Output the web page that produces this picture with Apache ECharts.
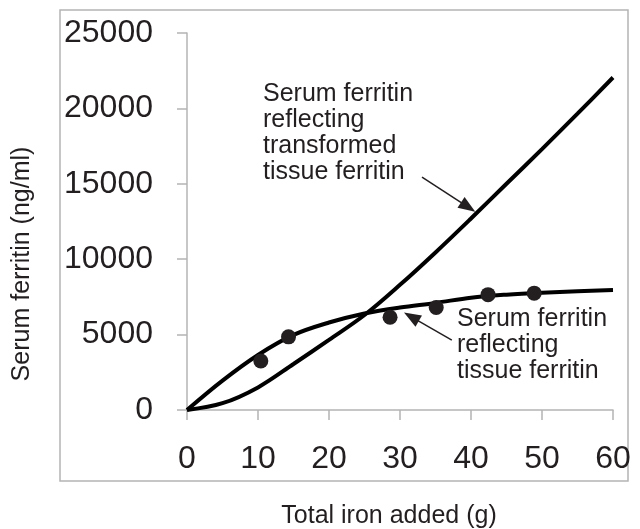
<!DOCTYPE html>
<html>
<head>
<meta charset="utf-8">
<script src="https://cdn.jsdelivr.net/npm/echarts@6/dist/echarts.min.js"></script>
<style>
  html, body { margin: 0; padding: 0; background: #fff; }
  #ferritin { width: 640px; height: 529px; }
</style>
</head>
<body>
<div id="ferritin"></div>
<script>
// x 轴刻度
const ironTicks = [0, 10, 20, 30, 40, 50, 60]
// 两条曲线的取样点 (g, ng/ml)
const curveIron = [0, 5, 10, 15, 20, 25, 30, 35, 40, 45, 50, 55, 60]
const tissueFerritin = [0, 1950, 3650, 4980, 5800, 6400, 6800, 7100, 7450, 7650, 7780, 7870, 7950]
const transformedFerritin = [0, 450, 1500, 3050, 4650, 6300, 8300, 10450, 12700, 15000, 17300, 19650, 22050]
// 实测点
const measuredIron = [10.4, 14.3, 28.6, 35.1, 42.4, 48.9]
const measuredFerritin = [3250, 4850, 6150, 6800, 7650, 7750]
// 箭头 (数据坐标)
const arrowTransformed = [[33.1, 15450], [39.6, 13460]]
const arrowTissue = [[37.3, 4640], [31.6, 6180]]

const fontName = 'Liberation Sans'
const ink = '#231f20'
const axisGray = '#b4b4b4'

const pairs = (xs, ys) => xs.map((x, i) => [x, ys[i]])

const chart = echarts.init(document.getElementById('ferritin'))
chart.setOption({
  animation: false,
  backgroundColor: '#fff',
  grid: { left: 187, right: 27, top: 33, bottom: 119 },
  xAxis: {
    type: 'value',
    min: 0,
    max: 60,
    interval: 10,
    axisLine: { lineStyle: { color: axisGray, width: 1.5 } },
    axisTick: { show: true, length: 10, lineStyle: { color: axisGray, width: 1.5 } },
    axisLabel: {
      margin: 33,
      color: ink,
      fontFamily: fontName,
      fontSize: 32,
      formatter: v => (ironTicks.indexOf(v) >= 0 ? String(v) : '')
    },
    splitLine: { show: false }
  },
  yAxis: {
    type: 'value',
    min: 0,
    max: 25000,
    interval: 5000,
    axisLine: { show: true, lineStyle: { color: axisGray, width: 1.5 } },
    axisTick: { show: true, length: 10, lineStyle: { color: axisGray, width: 1.5 } },
    axisLabel: {
      margin: 34,
      color: ink,
      fontFamily: fontName,
      fontSize: 32,
      formatter: v => String(v)
    },
    splitLine: { show: false }
  },
  graphic: [
    // 外框
    {
      type: 'rect',
      shape: { x: 60, y: 10, width: 568, height: 471 },
      style: { fill: 'none', stroke: axisGray, lineWidth: 1.5 },
      z: -1
    },
    {
      type: 'text',
      x: 389,
      y: 516,
      style: {
        text: 'Total iron added (g)',
        fontFamily: fontName,
        fontSize: 25,
        fill: ink,
        align: 'center',
        verticalAlign: 'middle'
      }
    },
    {
      type: 'text',
      x: 22,
      y: 264,
      rotation: Math.PI / 2,
      style: {
        text: 'Serum ferritin (ng/ml)',
        fontFamily: fontName,
        fontSize: 25,
        fill: ink,
        align: 'center',
        verticalAlign: 'middle'
      }
    },
    {
      type: 'text',
      x: 263,
      y: 81,
      style: {
        text: 'Serum ferritin\nreflecting\ntransformed\ntissue ferritin',
        fontFamily: fontName,
        fontSize: 25,
        lineHeight: 26,
        fill: ink
      }
    },
    {
      type: 'text',
      x: 457,
      y: 306,
      style: {
        text: 'Serum ferritin\nreflecting\ntissue ferritin',
        fontFamily: fontName,
        fontSize: 25,
        lineHeight: 26,
        fill: ink
      }
    }
  ],
  series: [
    {
      name: 'tissue',
      type: 'line',
      data: pairs(curveIron, tissueFerritin),
      smooth: 0.35,
      symbol: 'none',
      lineStyle: { color: '#000', width: 4 },
      markLine: {
        silent: true,
        symbol: ['none', 'triangle'],
        symbolSize: [13, 17],
        label: { show: false },
        lineStyle: { color: ink, width: 1.5, type: 'solid' },
        data: [
          [{ coord: arrowTransformed[0] }, { coord: arrowTransformed[1] }],
          [{ coord: arrowTissue[0] }, { coord: arrowTissue[1] }]
        ]
      }
    },
    {
      name: 'transformed',
      type: 'line',
      data: pairs(curveIron, transformedFerritin),
      smooth: 0.35,
      symbol: 'none',
      lineStyle: { color: '#000', width: 4 }
    },
    {
      name: 'measured',
      type: 'scatter',
      data: pairs(measuredIron, measuredFerritin),
      symbol: 'circle',
      symbolSize: 15,
      itemStyle: { color: ink, opacity: 1 },
      z: 5
    }
  ]
})
</script>
</body>
</html>
